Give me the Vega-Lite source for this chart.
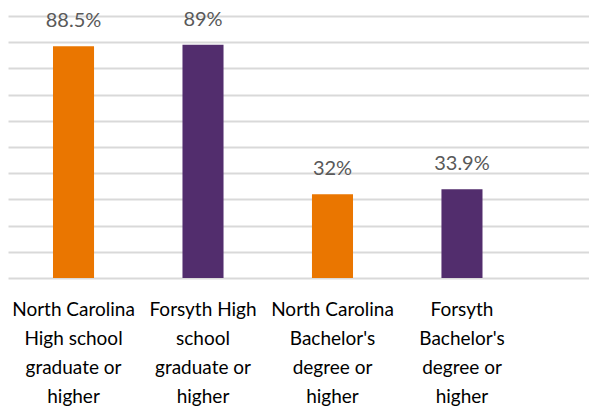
{
  "$schema": "https://vega.github.io/schema/vega-lite/v6.json",
  "width": 581,
  "height": 262,
  "autosize": "none",
  "padding": {"left": 8, "top": 16, "right": 0, "bottom": 133},
  "background": "white",
  "config": {"view": {"stroke": null}, "font": "Lato"},
  "data": {
    "values": [
      {"cat": "North Carolina|High school|graduate or|higher", "value": 88.5, "label": "88.5%", "group": "NC"},
      {"cat": "Forsyth High|school|graduate or|higher", "value": 89, "label": "89%", "group": "Forsyth"},
      {"cat": "North Carolina|Bachelor's|degree or|higher", "value": 32, "label": "32%", "group": "NC"},
      {"cat": "Forsyth|Bachelor's|degree or|higher", "value": 33.9, "label": "33.9%", "group": "Forsyth"}
    ]
  },
  "encoding": {
    "x": {
      "field": "cat",
      "type": "nominal",
      "sort": null,
      "scale": {"paddingInner": 0.683, "paddingOuter": 0.585, "align": 0.297},
      "axis": {
        "title": null,
        "labelExpr": "split(datum.label, '|')",
        "labelAngle": 0,
        "labelFontSize": 19,
        "labelLineHeight": 29,
        "labelColor": "#000000",
        "labelPadding": 22,
        "labelBaseline": "top",
        "labelFont": "Lato",
        "ticks": false,
        "domain": false,
        "labelLimit": 200
      }
    },
    "y": {
      "field": "value",
      "type": "quantitative",
      "scale": {"domain": [0, 100]},
      "axis": {
        "title": null,
        "labels": false,
        "ticks": false,
        "domain": false,
        "values": [0, 10, 20, 30, 40, 50, 60, 70, 80, 90, 100],
        "gridColor": "#d9d9d9",
        "gridWidth": 1.8
      }
    }
  },
  "layer": [
    {
      "mark": {"type": "bar"},
      "encoding": {
        "color": {
          "field": "group",
          "type": "nominal",
          "scale": {"domain": ["NC", "Forsyth"], "range": ["#EA7600", "#522D6D"]},
          "legend": null
        }
      }
    },
    {
      "mark": {"type": "text", "dy": -19, "baseline": "alphabetic", "fontSize": 20, "fontWeight": 400, "color": "#595959", "font": "Lato"},
      "encoding": {"text": {"field": "label"}}
    }
  ]
}
